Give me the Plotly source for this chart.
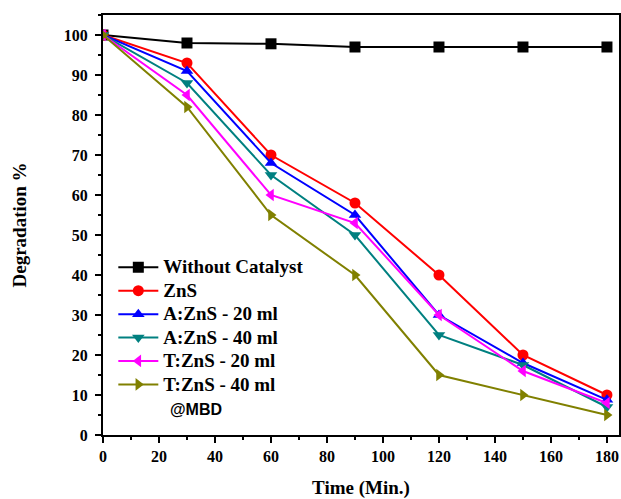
import plotly.graph_objects as go

time = [0, 30, 60, 90, 120, 150, 180]
without_catalyst = [100, 98, 97.8, 97, 97, 97, 97]
zns = [100, 93, 70, 58, 40, 20, 10]
a_zns_20 = [100, 91, 68, 55, 30, 18, 8.8]
a_zns_40 = [100, 88, 65, 50, 25, 17.5, 7]
t_zns_20 = [100, 85, 60, 53, 30, 16, 8]
t_zns_40 = [100, 82, 55, 40, 15, 10, 5]

series = [
    ("Without Catalyst", without_catalyst, "black", "square"),
    ("ZnS", zns, "red", "circle"),
    ("A:ZnS - 20 ml", a_zns_20, "blue", "triangle-up"),
    ("A:ZnS - 40 ml", a_zns_40, "#008080", "triangle-down"),
    ("T:ZnS - 20 ml", t_zns_20, "#ff00ff", "triangle-left"),
    ("T:ZnS - 40 ml", t_zns_40, "#808000", "triangle-right"),
]

fig = go.Figure()
for name, ys, color, sym in series:
    fig.add_trace(go.Scatter(
        x=time, y=ys, name='<span style="font-size:19px">' + name + '</span>',
        mode="lines+markers",
        line=dict(color=color, width=2),
        marker=dict(symbol=sym, size=11, color=color),
    ))

serif = "Times New Roman"
fig.update_layout(
    width=621, height=499,
    margin=dict(l=103, r=2, t=15, b=64),
    paper_bgcolor="white", plot_bgcolor="white",
    font=dict(family=serif, color="black"),
    showlegend=True,
    legend=dict(
        x=0.02, y=0.439, xanchor="left", yanchor="top",
        bgcolor="rgba(0,0,0,0)",
        font=dict(family=serif, size=15.7, color="black", weight="bold"),
        itemwidth=40, tracegroupgap=0,
    ),
    xaxis=dict(
        range=[0, 184.3], tickmode="array", tickvals=list(range(0, 181, 20)),
        ticks="outside", ticklen=6, tickwidth=2, tickcolor="black",
        minor=dict(ticks="outside", ticklen=3, tickwidth=2, tickcolor="black", dtick=10),
        showline=True, linecolor="black", linewidth=2, mirror=True,
        showgrid=False, zeroline=False, automargin=False,
        tickfont=dict(family=serif, size=16, weight="bold"),
        title=dict(text="<b>Time (Min.)</b>", font=dict(family=serif, size=19), standoff=22),
    ),
    yaxis=dict(
        range=[0, 105], tickmode="array", tickvals=list(range(0, 101, 10)),
        ticks="outside", ticklen=6, tickwidth=2, tickcolor="black",
        minor=dict(ticks="outside", ticklen=3, tickwidth=2, tickcolor="black", dtick=5),
        showline=True, linecolor="black", linewidth=2, mirror=True,
        showgrid=False, zeroline=False, automargin=False,
        ticklabelstandoff=4,
        tickfont=dict(family=serif, size=16, weight="bold"),
        title=dict(text="<b>Degradation %</b>", font=dict(family=serif, size=19), standoff=32),
    ),
    annotations=[dict(
        text="<b>@MBD</b>", x=0.126, y=0.06, xref="paper", yref="paper",
        xanchor="left", yanchor="middle", showarrow=False,
        font=dict(family="Liberation Sans", size=16, color="black"),
    )],
)

fig.write_html("out.html")
